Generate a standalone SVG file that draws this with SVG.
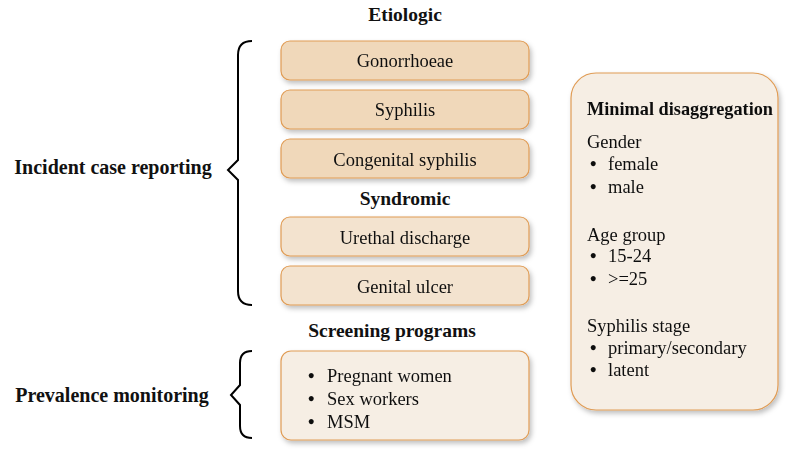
<svg xmlns="http://www.w3.org/2000/svg" width="800" height="465" viewBox="0 0 800 465">
<defs>
<filter id="sh" x="-10%" y="-10%" width="130%" height="140%">
<feDropShadow dx="2" dy="3" stdDeviation="2.5" flood-color="#000" flood-opacity="0.25"/>
</filter>
<style>
text{font-family:"Liberation Serif","Times New Roman",serif;fill:#111;}
.h{font-weight:bold;font-size:19.5px;}
.l{font-weight:bold;font-size:20px;}
.t{font-size:18.5px;}
.d{font-size:18.5px;font-weight:bold;}
.b1{fill:#F0D8BA;stroke:#E09C55;stroke-width:1.2;}
.b2{fill:#F3E3CF;stroke:#E09C55;stroke-width:1.2;}
.b3{fill:#F6EEE4;stroke:#E09C55;stroke-width:1.2;}
.br{fill:none;stroke:#000;stroke-width:2;}
</style>
</defs>
<g id="labels">
<text class="h" x="405" y="21" text-anchor="middle">Etiologic</text>
<text class="h" x="405" y="205" text-anchor="middle">Syndromic</text>
<text class="h" x="392" y="337" text-anchor="middle">Screening programs</text>
<text class="l" x="113" y="174" text-anchor="middle">Incident case reporting</text>
<text class="l" x="112" y="402" text-anchor="middle">Prevalence monitoring</text>
</g>
<g id="connectors">
<path class="br" d="M252,41 Q238,41 238,55 L238,160 L228,170 L238,180 L238,291 Q238,305 252,305"/>
<path class="br" d="M252,351 Q240,351 240,363 L240,385 L231,395 L240,405 L240,426 Q240,438 252,438"/>
</g>
<g id="gonorrhoeae" filter="url(#sh)">
<rect class="b1" x="281" y="41" width="248" height="39" rx="9"/>
<text class="t" x="405" y="67" text-anchor="middle">Gonorrhoeae</text>
</g>
<g id="syphilis" filter="url(#sh)">
<rect class="b1" x="281" y="90" width="248" height="39" rx="9"/>
<text class="t" x="405" y="116" text-anchor="middle">Syphilis</text>
</g>
<g id="congenital" filter="url(#sh)">
<rect class="b1" x="281" y="139" width="248" height="39" rx="9"/>
<text class="t" x="405" y="166" text-anchor="middle">Congenital syphilis</text>
</g>
<g id="urethral" filter="url(#sh)">
<rect class="b2" x="281" y="217" width="248" height="39" rx="9"/>
<text class="t" x="405" y="244" text-anchor="middle">Urethal discharge</text>
</g>
<g id="ulcer" filter="url(#sh)">
<rect class="b2" x="281" y="266" width="248" height="39" rx="9"/>
<text class="t" x="405" y="293" text-anchor="middle">Genital ulcer</text>
</g>
<g id="screening" filter="url(#sh)">
<rect class="b3" x="281" y="351" width="248" height="89" rx="10"/>
<text class="d" x="308" y="382">•</text><text class="t" x="327" y="382">Pregnant women</text>
<text class="d" x="308" y="405">•</text><text class="t" x="327" y="405">Sex workers</text>
<text class="d" x="308" y="428">•</text><text class="t" x="327" y="428">MSM</text>
</g>
<g id="disaggregation" filter="url(#sh)">
<rect class="b3" x="571" y="73" width="207" height="337" rx="25"/>
<text class="h" x="587" y="115" style="font-size:18.3px">Minimal disaggregation</text>
<text class="t" x="587" y="148">Gender</text>
<text class="d" x="590" y="170">•</text><text class="t" x="608" y="170">female</text>
<text class="d" x="590" y="193">•</text><text class="t" x="608" y="193">male</text>
<text class="t" x="587" y="241">Age group</text>
<text class="d" x="590" y="262">•</text><text class="t" x="608" y="262">15-24</text>
<text class="d" x="590" y="285">•</text><text class="t" x="608" y="285">&gt;=25</text>
<text class="t" x="587" y="332">Syphilis stage</text>
<text class="d" x="590" y="354">•</text><text class="t" x="608" y="354">primary/secondary</text>
<text class="d" x="590" y="376">•</text><text class="t" x="608" y="376">latent</text>
</g>
</svg>
